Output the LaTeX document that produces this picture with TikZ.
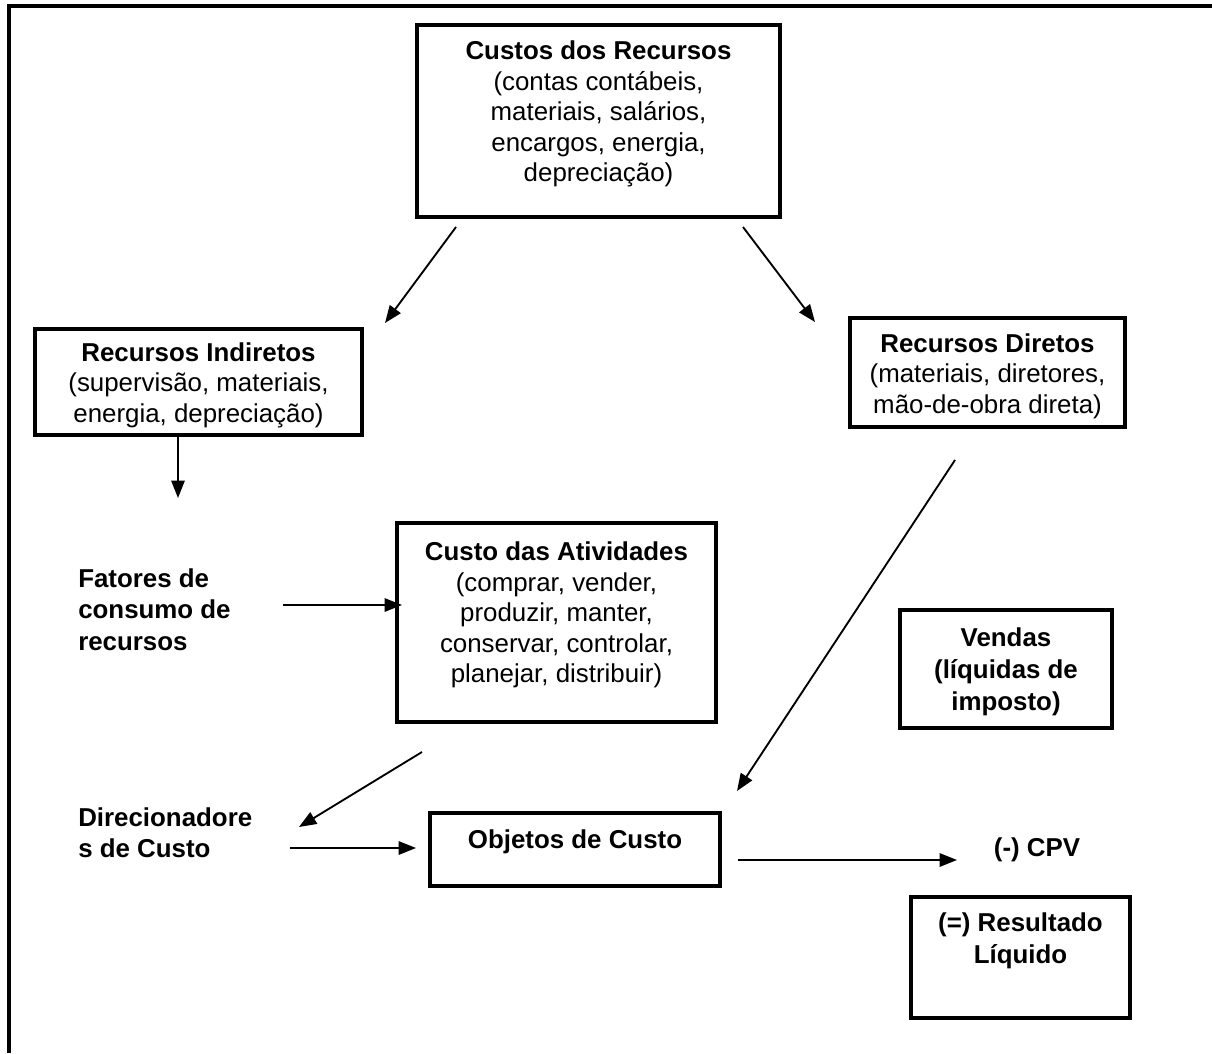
\documentclass[tikz,border=0pt]{standalone}
\usepackage{fontspec}
\setmainfont{Liberation Sans}
\usetikzlibrary{arrows.meta}

\tikzset{
  box/.style={draw,line width=2.6pt,inner sep=0pt},
  boxsize/.style 2 args={minimum width=#1*.75pt,minimum height=#2*.75pt},
  txt/.style={align=center,inner sep=0pt,font=\fontsize{19.4}{22.8}\selectfont},
  btxt/.style={align=left,inner sep=0pt,font=\bfseries\fontsize{19.4}{23.5}\selectfont},
  seta/.style={-{Triangle[length=13pt,width=10pt]},line width=1.4pt}
}

\begin{document}
\begin{tikzpicture}[x=.75pt,y=-.75pt]
    \useasboundingbox (0,0) rectangle (1212,1053);
    \draw[line width=3pt] (9,1053) -- (9,6) -- (1212,6);

    \node[box,boxsize={363}{192}] (custos) at (598.5,121) {};
    \node[txt] (custosTxt) at (598.5,114)
      {\textbf{Custos dos Recursos}\\(contas contábeis,\\materiais, salários,\\encargos, energia,\\depreciação)};

    \node[box,boxsize={327}{106}] (indiretos) at (198.5,382) {};
    \node[txt] (indiretosTxt) at (198.5,385)
      {\textbf{Recursos Indiretos}\\(supervisão, materiais,\\energia, depreciação)};

    \node[box,boxsize={275}{109}] (diretos) at (987.5,372.5) {};
    \node[txt] (diretosTxt) at (987.5,376)
      {\textbf{Recursos Diretos}\\(materiais, diretores,\\mão-de-obra direta)};

    \node[box,boxsize={319}{199}] (atividades) at (556.5,622.5) {};
    \node[txt] (atividadesTxt) at (556.5,615)
      {\textbf{Custo das Atividades}\\(comprar, vender,\\produzir, manter,\\conservar, controlar,\\planejar, distribuir)};

    \node[box,boxsize={212}{118}] (vendas) at (1006,669) {};
    \node[txt,font=\bfseries\fontsize{19.4}{23.8}\selectfont] (vendasTxt) at (1006,672)
      {Vendas\\(líquidas de\\imposto)};

    \node[box,boxsize={290}{73}] (objetos) at (575,849.5) {};
    \node[txt,font=\bfseries\fontsize{19.4}{23.5}\selectfont] (objetosTxt) at (575,842) {Objetos de Custo};

    \node[box,boxsize={219}{121}] (resultado) at (1020.5,957.5) {};
    \node[txt,font=\bfseries\fontsize{19.4}{23.8}\selectfont] (resultadoTxt) at (1020.5,941)
      {(=) Resultado\\Líquido};

    \node[btxt,anchor=west] (fatores) at (78,609.5) {Fatores de\\consumo de\\recursos};
    \node[btxt,anchor=west] (direcionadores) at (78,833) {Direcionadore\\s de Custo};
    \node[txt,font=\bfseries\fontsize{19.4}{23.5}\selectfont] (cpv) at (1037,850) {(-) CPV};

    \coordinate (a1) at (456,227);  \coordinate (b1) at (385,323);
    \coordinate (a2) at (743,227);  \coordinate (b2) at (815,322);
    \coordinate (a3) at (178,436);  \coordinate (b3) at (178,498);
    \coordinate (a4) at (283,605);  \coordinate (b4) at (402,605);
    \coordinate (a5) at (955,460);  \coordinate (b5) at (737,791);
    \coordinate (a6) at (422,752);  \coordinate (b6) at (299,827);
    \coordinate (a7) at (290,848);  \coordinate (b7) at (416,848);
    \coordinate (a8) at (738,860);  \coordinate (b8) at (957,860);
    \foreach \i in {1,...,8}{
      \draw[seta] (a\i) -- (b\i);
    }
  \end{tikzpicture}
\end{document}
